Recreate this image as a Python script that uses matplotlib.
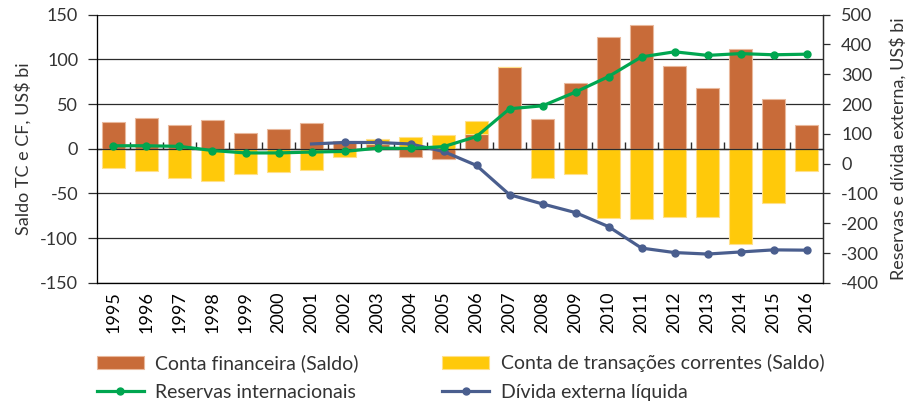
import numpy as np
import matplotlib
matplotlib.use('Agg')
import matplotlib.pyplot as plt

plt.rcParams['font.family'] = ['Lato', 'DejaVu Sans']
plt.rcParams['axes.unicode_minus'] = False

# data (US$ bi)
years = [str(y) for y in range(1995, 2017)]
conta_financeira = [30, 34, 27, 32, 18, 22, 29, 9, 5, -9, -11, 16, 91, 33, 74, 125, 138, 93, 68, 112, 56, 27]
conta_corrente = [-21, -25, -33, -36, -28, -26, -24, -9, 6, 13, 15, 15, 0, -33, -28, -77, -78, -76, -76, -106, -61, -25]
reservas = [60, 60, 58, 44, 36, 36, 39, 41, 52, 51, 57, 91, 184, 194, 240, 292, 358, 375, 363, 369, 365, 367]
divida = [np.nan] * 6 + [66, 71, 71, 66, 41, -6, -104, -135, -164, -211, -283, -298, -303, -296, -289, -290]

c_fin = '#C86B39'
c_cur = '#FFC90A'
c_res = '#00A650'
c_div = '#4A5E8E'
c_grid = '#2B2B2B'

x = np.arange(len(years))
fin = np.array(conta_financeira, dtype=float)
cur = np.array(conta_corrente, dtype=float)
# stacked columns: positives on positives, negatives on negatives
cur_bottom = np.where(cur >= 0, np.maximum(fin, 0), np.minimum(fin, 0))

fig = plt.figure(figsize=(9.15, 4.01), dpi=100)
ax = fig.add_axes([0.106, 0.2943, 0.7935, 0.6695])

ax.bar(x, fin, width=0.72, color=c_fin, edgecolor='#E9B89C', linewidth=0.8,
       zorder=2, label='Conta financeira (Saldo)')
ax.bar(x, cur, bottom=cur_bottom, width=0.72, color=c_cur, edgecolor='#FFE08A',
       linewidth=0.8, zorder=2, label='Conta de transações correntes (Saldo)')

ax.set_xlim(-0.5, len(years) - 0.5)
ax.set_ylim(-150, 150)
ax.set_yticks(np.arange(-150, 151, 50))
ax.yaxis.grid(True, color=c_grid, linewidth=0.9, zorder=0)
ax.set_axisbelow(True)
ax.axhline(0, color=c_grid, linewidth=0.9, zorder=2.5)

ax.set_xticks(x)
ax.set_xticklabels(years, rotation=90, fontsize=13)
ax.tick_params(axis='x', length=0, pad=6)
ax.tick_params(axis='y', direction='out', length=6.5, width=0.9, color=c_grid,
               labelsize=13, pad=7, labelcolor='#333333')
ax.set_ylabel('Saldo TC e CF, US$ bi', fontsize=13, color='#333333', labelpad=6)

ax.spines['top'].set_visible(False)
for s in ['left', 'bottom', 'right']:
    ax.spines[s].set_color(c_grid)
    ax.spines[s].set_linewidth(0.9)

# category tick marks on the zero line
sec = ax.secondary_xaxis(0.5)
sec.set_xticks(x[:-1] + 0.5)
sec.set_xticklabels([])
sec.tick_params(axis='x', direction='out', length=5, width=1.0, color=c_grid)
sec.spines['bottom'].set_visible(False)

ax2 = ax.twinx()
ax2.set_ylim(-400, 500)
ax2.set_yticks(np.arange(-400, 501, 100))
ax2.plot(x, reservas, color=c_res, linewidth=2.3, marker='o', markersize=5,
         zorder=4, label='Reservas internacionais')
ax2.plot(x, divida, color=c_div, linewidth=2.3, marker='o', markersize=5,
         markevery=list(range(7, len(years))), zorder=3, label='Dívida externa líquida')
ax2.tick_params(axis='y', direction='out', length=5, width=0.9, color=c_grid,
                labelsize=13, pad=8, labelcolor='#333333')
ax2.set_ylabel('Reservas e dívida externa, US$ bi', fontsize=13, color='#333333', labelpad=8)
ax2.spines['top'].set_visible(False)
ax2.spines['right'].set_color(c_grid)
ax2.spines['right'].set_linewidth(0.9)

h1, l1 = ax.get_legend_handles_labels()
h2, l2 = ax2.get_legend_handles_labels()
handles = [h1[0], h2[0], h1[1], h2[1]]
labels = [l1[0], l2[0], l1[1], l2[1]]
fig.legend(handles, labels, ncol=2, loc='upper left', bbox_to_anchor=(0.106, 0.117),
           frameon=False, fontsize=14, handlelength=2.4, handletextpad=0.6,
           columnspacing=4.3, labelspacing=0.6, borderpad=0, borderaxespad=0,
           labelcolor='#333333')

fig.savefig('out.png', dpi=100)
